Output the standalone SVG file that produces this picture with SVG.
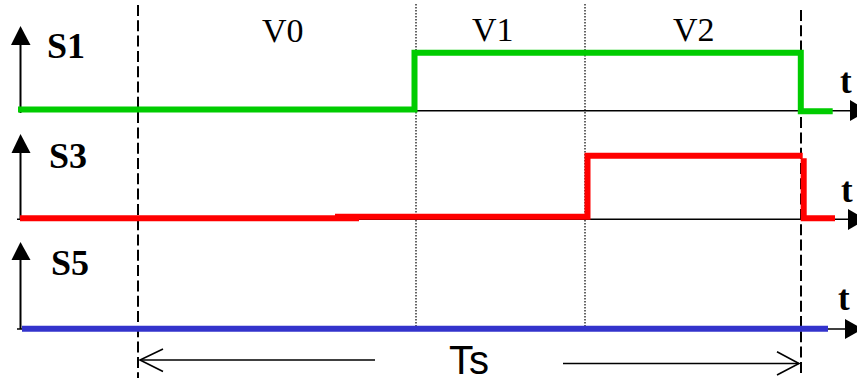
<svg xmlns="http://www.w3.org/2000/svg" width="857" height="381" viewBox="0 0 857 381">
<style>
.axis{stroke:#000;stroke-width:2;fill:none}
.dash{stroke:#000;stroke-width:2;stroke-dasharray:11 4.3;fill:none}
.dot{stroke:#000;stroke-width:1.2;stroke-dasharray:1.5 1.5;fill:none}
.thin{stroke:#000;stroke-width:1.6;fill:none}
.sig{fill:none;stroke-width:6;stroke-linejoin:miter;stroke-linecap:butt}
.lbl{font-family:"Liberation Serif","Times New Roman",serif;font-weight:bold;font-size:36px;fill:#000}
.v{font-family:"Liberation Serif","Times New Roman",serif;font-size:34px;fill:#000}
.t{font-family:"Liberation Serif","Times New Roman",serif;font-weight:bold;font-size:35px;fill:#000}
.ts{font-family:"Liberation Sans",Arial,sans-serif;font-size:40px;fill:#000}
</style>
<rect width="857" height="381" fill="#fff"/>
<g id="grid">
<line class="dash" x1="138" y1="5" x2="138" y2="378"/>
<line class="dash" x1="801" y1="10" x2="801" y2="374"/>
<line class="dot" x1="416" y1="4" x2="416" y2="330"/>
<line class="dot" x1="585" y1="4" x2="585" y2="327"/>
</g>
<g id="axes">
<line class="axis" x1="20.5" y1="113" x2="20.5" y2="40"/>
<polygon points="20.5,26 11,45 30.5,45" fill="#000"/>
<line class="axis" x1="20.5" y1="219" x2="20.5" y2="150"/>
<polygon points="20.5,134 11.5,153 30.5,153" fill="#000"/>
<line class="axis" x1="20.5" y1="329" x2="20.5" y2="256"/>
<polygon points="20.5,242 11.5,260 30.5,260" fill="#000"/>
<line class="thin" x1="20" y1="110.7" x2="852" y2="110.7"/>
<polygon points="850,100 868,110.7 850,121" fill="#000"/>
<line class="thin" x1="17" y1="219.3" x2="850" y2="219.3"/>
<polygon points="848,209 866,219.3 848,230" fill="#000"/>
<line class="thin" x1="17" y1="329" x2="847" y2="329"/>
<polygon points="845,319 863,329 845,339" fill="#000"/>
</g>
<g id="S1">
<polyline class="sig" stroke="#00cc00" points="18,109.5 414.5,109.5 414.5,52.7 800.8,52.7 800.8,111.3 832.7,111.3"/>
<text class="lbl" x="47" y="58">S1</text>
</g>
<g id="S3">
<line class="sig" stroke="#ff0000" x1="20" y1="218.3" x2="359" y2="218.3"/>
<polyline class="sig" stroke="#ff0000" points="335,216.7 587.5,216.7 587.5,155.8 802.7,155.8"/>
<polyline class="sig" stroke="#ff0000" points="803.7,158.3 803.7,218.3 835,218.3"/>
<text class="lbl" x="49" y="168">S3</text>
</g>
<g id="S5">
<line class="sig" stroke="#3333cc" stroke-width="5.5" x1="22" y1="328.7" x2="828" y2="328.7"/>
<text class="lbl" x="51" y="275">S5</text>
</g>
<g id="labels">
<text class="v" x="262" y="41.5">V0</text>
<text class="v" x="472" y="41">V1</text>
<text class="v" x="673" y="41">V2</text>
<text class="t" x="840" y="92.5">t</text>
<text class="t" x="841" y="201.5">t</text>
<text class="t" x="838" y="310">t</text>
<text class="ts" x="449" y="374.3">Ts</text>
</g>
<g id="connectors">
<line class="thin" x1="375" y1="360" x2="140" y2="360"/>
<polyline class="thin" points="163,349 140,360 163,371.5"/>
<line class="thin" x1="563" y1="363.5" x2="799" y2="363.5"/>
<polyline class="thin" points="777,351.7 799,363.5 777,375"/>
</g>
</svg>
